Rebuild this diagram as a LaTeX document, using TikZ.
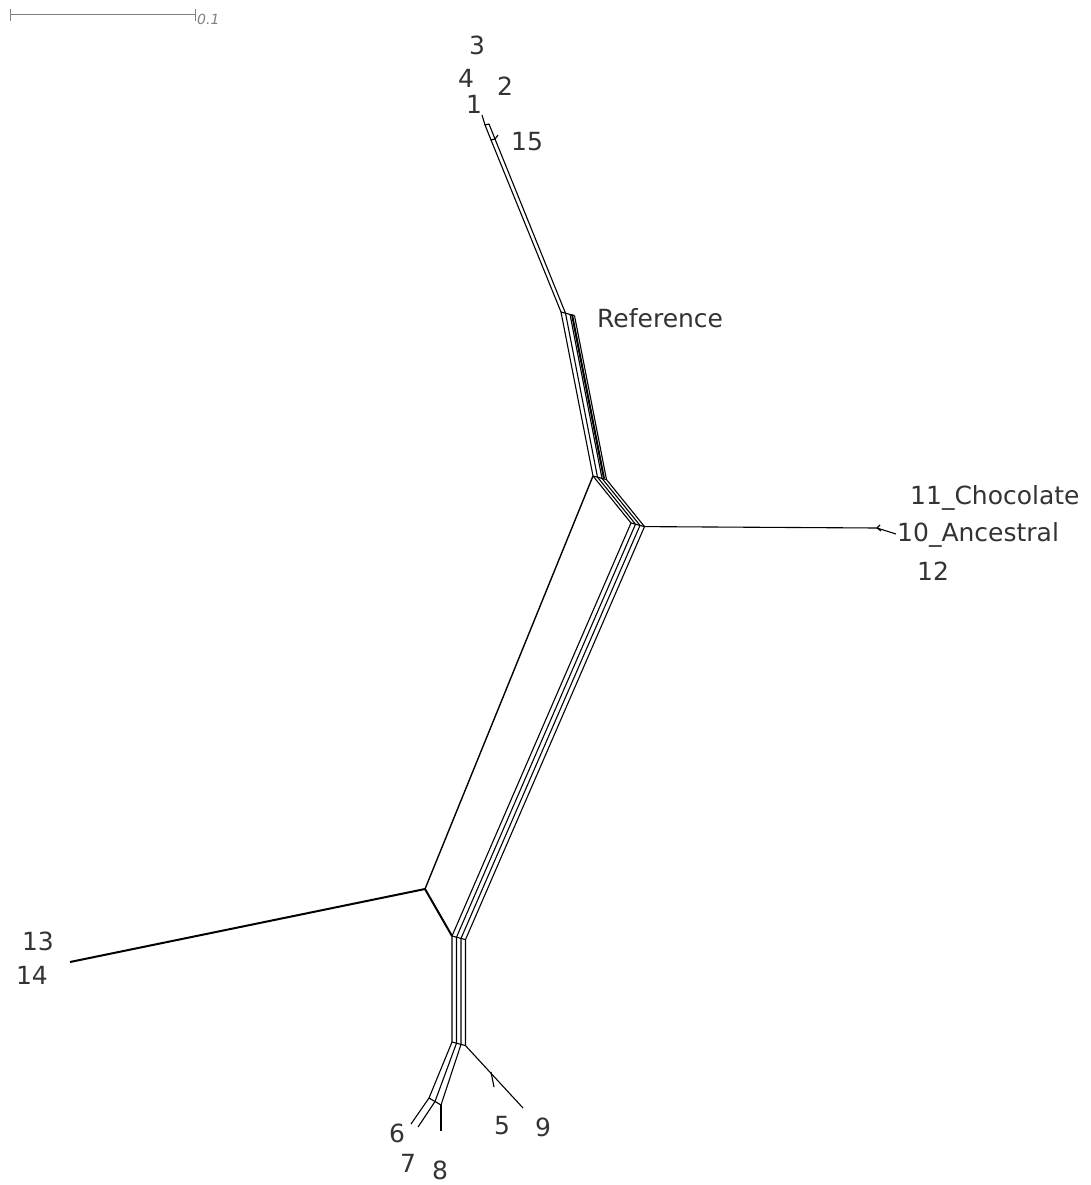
\documentclass[tikz,border=0pt]{standalone}
\usepackage{fontspec}
\setmainfont{DejaVu Sans}
\usetikzlibrary{calc}
\begin{document}
\begin{tikzpicture}[x=1pt,y=-1pt,
  net/.style={line width=1.1pt,black,line join=round},
  heavy/.style={line width=2pt,black,line join=round},
  lbl/.style={font=\fontsize{25}{30}\selectfont,text=black!80,inner sep=0pt},
  scalebar/.style={line width=1pt,gray}]
\useasboundingbox (0,0) rectangle (1091,1185);
% scale bar
\coordinate (sbA) at (10,15);
\coordinate (sbB) at (195,15);
\draw[scalebar] (sbA) -- (sbB);
\draw[scalebar] ($(sbA)+(0,-6)$) -- ($(sbA)+(0,6)$);
\draw[scalebar] ($(sbB)+(0,-6)$) -- ($(sbB)+(0,6)$);
\node[font=\fontsize{14}{16}\selectfont\itshape,text=gray,anchor=west,inner sep=0pt] (sblbl) at (197,19) {0.1};
% main skeleton
\coordinate (P) at (561,312);
\coordinate (T) at (593,476);
\coordinate (R) at (631,523);
\coordinate (B) at (452,936);
\coordinate (D) at (452,1042);
\coordinate (L) at (425,889);
\coordinate (W) at (70,962);
% top cluster
\coordinate (t1) at (482,115);
\coordinate (q0) at (485,125);
\coordinate (q1) at (489,124);
\coordinate (q2) at (495,139);
\coordinate (q3) at (491,140);
\draw[net] (t1) -- (q0);
\draw[net] (q0) -- (q1) -- (q2) -- (q3) -- cycle;
\draw[net] (q3) -- (P);
\draw[net] (q2) -- ($(P)+(4.5,1.2)$);
\draw[net] (q2) -- ($(q2)+(3,-4)$);
% reference edge
\draw[net] (P) -- ($(P)+(13.5,3.6)$);
\foreach \k in {0,1,2,3}{
  \draw[net] ($(P)+(4.5*\k,1.2*\k)$) -- ($(T)+(4.5*\k,1.2*\k)$) -- ($(R)+(4.5*\k,1.2*\k)$) -- ($(B)+(4.5*\k,1.2*\k)$) -- ($(D)+(4.5*\k,1.2*\k)$);
}
\draw[heavy] ($(P)+(11,2.5)$) -- ($(T)+(11,2.5)$);
% closing edges of the bands
\draw[net] (T) -- ($(T)+(13.5,3.6)$);
\draw[net] (R) -- ($(R)+(13.5,3.6)$);
\draw[net] (B) -- ($(B)+(13.5,3.6)$);
\draw[net] (D) -- ($(D)+(13.5,3.6)$);
% long single split edge and left side
\draw[line width=1.4pt] (T) -- (L);
\draw[heavy] (L) -- (B);
\draw[heavy] (L) -- (W);
% right branch
\coordinate (X) at (877,528);
\coordinate (x11) at (880,525);
\coordinate (x10) at (896,534);
\coordinate (x12) at (881,531);
\draw[net] ($(R)+(13.5,3.6)$) -- (X);
\draw[net] (X) -- (x11);
\draw[net] (X) -- (x10);
\draw[net] (X) -- (x12);
% bottom cluster
\coordinate (E) at (429,1098);
\foreach \k in {0,1,2}{
  \draw[net] ($(D)+(4.5*\k,1.2*\k)$) -- ($(E)+(6*\k,3.5*\k)$);
}
\draw[net] (E) -- ($(E)+(12,7)$);
\coordinate (e6) at (411,1124);
\coordinate (e7) at (418,1127);
\coordinate (e8) at (441,1131);
\draw[net] (E) -- (e6);
\draw[net] ($(E)+(6,3.5)$) -- (e7);
\draw[net] ($(E)+(12,7)$) -- (e8);
\coordinate (N9) at (523,1108);
\coordinate (m5) at (491,1072);
\coordinate (e5) at (494,1087);
\draw[net] ($(D)+(13.5,3.6)$) -- (N9);
\draw[net] (m5) -- (e5);
% labels
\node[lbl] (n3) at (477,45) {3};
\node[lbl] (n4) at (466,78) {4};
\node[lbl] (n2) at (505,86) {2};
\node[lbl] (n1) at (474,104) {1};
\node[lbl] (n15) at (527,142) {15};
\node[lbl,anchor=west] (nref) at (597,318) {Reference};
\node[lbl,anchor=west] (n11) at (910,498) {11\_Chocolate};
\node[lbl,anchor=west] (n10) at (897,535) {10\_Ancestral};
\node[lbl] (n12) at (933,571) {12};
\node[lbl] (n13) at (38,941) {13};
\node[lbl] (n14) at (32,975) {14};
\node[lbl] (n6) at (397,1133) {6};
\node[lbl] (n7) at (408,1163) {7};
\node[lbl] (n8) at (440,1170) {8};
\node[lbl] (n5) at (502,1126) {5};
\node[lbl] (n9) at (543,1127) {9};
\end{tikzpicture}
\end{document}
